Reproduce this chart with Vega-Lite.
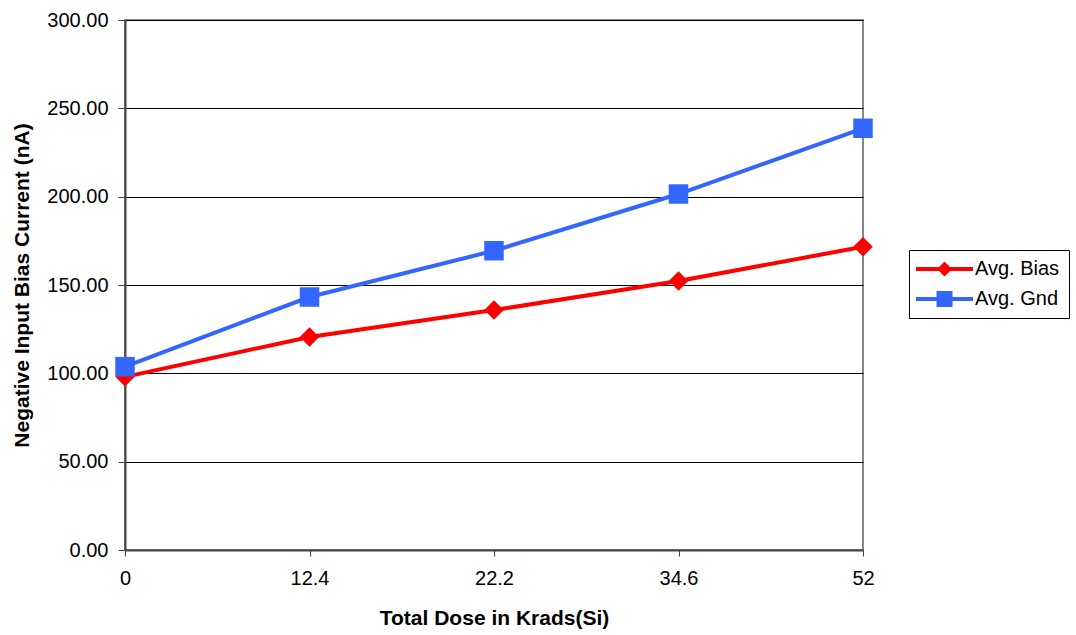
{
  "$schema": "https://vega.github.io/schema/vega-lite/v6.json",
  "width": 738,
  "height": 530,
  "autosize": {"type": "none"},
  "padding": {"left": 125, "top": 20, "right": 213, "bottom": 85},
  "background": "white",
  "view": {"stroke": "#888888", "strokeWidth": 2},
  "config": {
    "font": "Liberation Sans",
    "view": {"stroke": "#888888", "strokeWidth": 2}
  },
  "data": {
    "values": [
      {"dose": "0", "series": "Avg. Bias", "value": 98.0},
      {"dose": "12.4", "series": "Avg. Bias", "value": 120.6},
      {"dose": "22.2", "series": "Avg. Bias", "value": 135.8},
      {"dose": "34.6", "series": "Avg. Bias", "value": 152.3},
      {"dose": "52", "series": "Avg. Bias", "value": 171.6},
      {"dose": "0", "series": "Avg. Gnd", "value": 103.8},
      {"dose": "12.4", "series": "Avg. Gnd", "value": 143.2},
      {"dose": "22.2", "series": "Avg. Gnd", "value": 169.4},
      {"dose": "34.6", "series": "Avg. Gnd", "value": 201.5},
      {"dose": "52", "series": "Avg. Gnd", "value": 238.7}
    ]
  },
  "encoding": {
    "x": {
      "field": "dose",
      "type": "ordinal",
      "sort": ["0", "12.4", "22.2", "34.6", "52"],
      "scale": {"type": "point", "padding": 0},
      "axis": {
        "title": "Total Dose in Krads(Si)",
        "labelAngle": 0,
        "labelPadding": 12,
        "titlePadding": 19,
        "grid": false,
        "labelFont": "Liberation Sans",
        "titleFont": "Liberation Sans",
        "labelFontSize": 20,
        "labelColor": "#000000",
        "titleFontSize": 21,
        "titleFontWeight": "bold",
        "titleColor": "#000000",
        "domainColor": "#444444",
        "domainWidth": 2,
        "tickColor": "#444444",
        "tickSize": 6,
        "tickWidth": 1
      }
    },
    "y": {
      "field": "value",
      "type": "quantitative",
      "scale": {"domain": [0, 300], "nice": false, "zero": true},
      "axis": {
        "title": "Negative Input Bias Current (nA)",
        "values": [0, 50, 100, 150, 200, 250, 300],
        "format": ".2f",
        "grid": true,
        "gridColor": "#000000",
        "gridWidth": 1,
        "labelPadding": 10,
        "titlePadding": 14,
        "labelFont": "Liberation Sans",
        "titleFont": "Liberation Sans",
        "labelFontSize": 20,
        "labelColor": "#000000",
        "titleFontSize": 21,
        "titleFontWeight": "bold",
        "titleColor": "#000000",
        "domainColor": "#444444",
        "domainWidth": 2,
        "tickColor": "#444444",
        "tickSize": 7,
        "tickWidth": 1
      }
    }
  },
  "resolve": {
    "legend": {"color": "independent", "shape": "independent"},
    "scale": {"shape": "independent"}
  },
  "layer": [
    {
      "mark": {"type": "point", "filled": true, "opacity": 0},
      "encoding": {
        "color": {
          "field": "series",
          "type": "nominal",
          "scale": {"domain": ["Avg. Bias", "Avg. Gnd"], "range": ["#FF0000", "#3366FF"]},
          "legend": {
            "orient": "none",
            "legendX": 784,
            "legendY": 230,
            "title": null,
            "strokeColor": "#000000",
            "fillColor": "#FFFFFF",
            "padding": 9,
            "labelFont": "Liberation Sans",
            "labelFontSize": 20,
            "labelColor": "#000000",
            "labelOffset": 37,
            "symbolSize": 100,
            "symbolStrokeWidth": 0,
            "symbolOpacity": 1,
            "rowPadding": 10
          }
        },
        "shape": {
          "field": "series",
          "type": "nominal",
          "scale": {
            "domain": ["Avg. Bias", "Avg. Gnd"],
            "range": [
              "M-2.4,-0.4H9V0.4H-2.4Z M3.3,-1.5L4.8,0L3.3,1.5L1.8,0Z",
              "M-2.4,-0.4H9V0.4H-2.4Z M1.7,-1.6H4.9V1.6H1.7Z"
            ]
          },
          "legend": {
            "orient": "none",
            "legendX": 784,
            "legendY": 230,
            "title": null,
            "strokeColor": "#000000",
            "fillColor": "#FFFFFF",
            "padding": 9,
            "labelFont": "Liberation Sans",
            "labelFontSize": 20,
            "labelColor": "#000000",
            "labelOffset": 37,
            "symbolSize": 100,
            "symbolStrokeWidth": 0,
            "symbolOpacity": 1,
            "rowPadding": 10
          }
        }
      }
    },
    {
      "mark": {"type": "line", "strokeWidth": 4},
      "encoding": {
        "color": {
          "field": "series",
          "type": "nominal",
          "scale": {"domain": ["Avg. Bias", "Avg. Gnd"], "range": ["#FF0000", "#3366FF"]},
          "legend": null
        }
      }
    },
    {
      "mark": {"type": "point", "filled": true, "opacity": 1, "strokeWidth": 0},
      "encoding": {
        "color": {
          "field": "series",
          "type": "nominal",
          "scale": {"domain": ["Avg. Bias", "Avg. Gnd"], "range": ["#FF0000", "#3366FF"]},
          "legend": null
        },
        "shape": {
          "field": "series",
          "type": "nominal",
          "scale": {"domain": ["Avg. Bias", "Avg. Gnd"], "range": ["diamond", "square"]},
          "legend": null
        },
        "size": {"value": 380}
      }
    }
  ]
}
